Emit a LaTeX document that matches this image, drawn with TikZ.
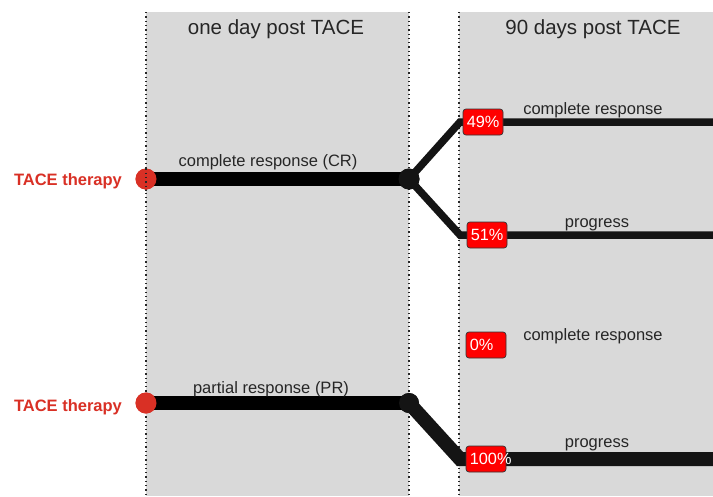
\documentclass[tikz,border=0pt]{standalone}
\usepackage{fontspec}
\setmainfont{Liberation Sans}
\definecolor{panelgray}{RGB}{217,217,217}
\definecolor{tacered}{RGB}{217,48,37}
\definecolor{pctred}{RGB}{255,0,0}
\definecolor{linedark}{RGB}{20,20,20}
\begin{document}
\begin{tikzpicture}[x=1pt,y=-1pt,
  panel/.style={fill=panelgray,draw=none},
  sep/.style={black!85,line width=1.3pt,dash pattern=on 1.3pt off 3pt},
  header/.style={font=\fontsize{20.5}{24}\selectfont,text=black!85},
  caption/.style={font=\fontsize{16.5}{19}\selectfont,text=black!85},
  therapy/.style={font=\bfseries\fontsize{16.5}{19}\selectfont,text=tacered},
  startdot/.style={circle,fill=tacered,inner sep=0pt,minimum size=21pt},
  joint/.style={circle,fill=linedark,inner sep=0pt,minimum size=21pt},
  mainline/.style={draw=black,line width=14pt},
  branch/.style={draw=linedark,line width=7.5pt},
  thickbranch/.style={draw=linedark,line width=14pt},
  pctbox/.style={fill=pctred,draw=black!80,line width=0.7pt,rounded corners=3pt,
    minimum width=40pt,minimum height=26pt,inner sep=0pt},
  pcttext/.style={font=\fontsize{16.3}{19}\selectfont,text=white,inner sep=0pt,anchor=west}
]
\useasboundingbox (0,0) rectangle (713,496);
\fill[white] (0,0) rectangle (713,496);

% time panels
\fill[panel] (146,12) rectangle (409,496);
\fill[panel] (459,12) rectangle (713,496);
\draw[sep] (146,12) -- (146,496);
\draw[sep] (409,12) -- (409,496);
\draw[sep] (459,12) -- (459,496);

\node[header] (h1) at (276,29) {one day post TACE};
\node[header] (h2) at (593,29) {90 days post TACE};

% ---- upper pathway: complete response after one day ----
\node[therapy] (t1) at (68,181) {TACE therapy};
\node[startdot] (s1) at (146,179) {};
\node[joint] (j1) at (409,179) {};
\draw[mainline] (s1.center) -- (j1.center);
\node[startdot] at (s1) {};
\draw[sep] (146,168.3) -- (146,190);
\node[caption] (c1) at (268,162) {complete response (CR)};

\coordinate (b1) at (460,122);
\coordinate (e1) at (713,122);
\coordinate (b2) at (460,235);
\coordinate (e2) at (713,235);
\draw[branch] (j1.center) -- (b1) -- (e1);
\draw[branch] (j1.center) -- (b2) -- (e2);
\node[joint] at (j1) {};

\node[pctbox] (p49) at (483,122) {};
\node[pcttext] at ([xshift=4pt]p49.west) {49\%};
\node[pctbox] (p51) at (487,235) {};
\node[pcttext] at ([xshift=4pt]p51.west) {51\%};
\node[caption] (r1) at (593,110) {complete response};
\node[caption] (r2) at (597,225) {progress};

% ---- lower pathway: partial response after one day ----
\node[therapy] (t2) at (68,407) {TACE therapy};
\node[startdot] (s2) at (146,403) {};
\node[joint,minimum size=20pt] (j2) at (409,403) {};
\draw[mainline] (s2.center) -- (j2.center);
\node[startdot] at (s2) {};
\node[caption] (c2) at (271,389) {partial response (PR)};

\coordinate (b3) at (460,459);
\coordinate (e3) at (713,459);
\draw[thickbranch] (j2.center) -- (b3) -- (e3);
\node[joint,minimum size=20pt] at (j2) {};

\node[pctbox] (p0) at (486,345) {};
\node[pcttext] at ([xshift=4pt]p0.west) {0\%};
\node[pctbox] (p100) at (486,459) {};
\node[pcttext] at ([xshift=4pt]p100.west) {100\%};
\node[caption] (r3) at (593,336) {complete response};
\node[caption] (r4) at (597,445) {progress};
\end{tikzpicture}
\end{document}
